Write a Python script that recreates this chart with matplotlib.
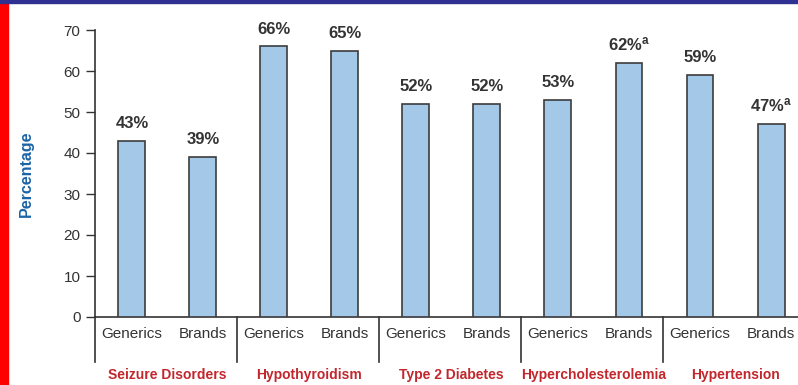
import numpy as np
import matplotlib
matplotlib.use("Agg")
import matplotlib.pyplot as plt
from matplotlib.patches import Rectangle
from matplotlib.transforms import blended_transform_factory

plt.rcParams["font.family"] = ["Liberation Sans", "DejaVu Sans"]
plt.rcParams["mathtext.default"] = "regular"

# adherence by condition, generic vs brand-name drugs
conditions = ["Seizure Disorders", "Hypothyroidism", "Type 2 Diabetes",
              "Hypercholesterolemia", "Hypertension"]
generics = [43, 66, 52, 53, 59]
brands = [39, 65, 52, 62, 47]
brands_flag = [False, False, False, True, True]   # footnote "a"
drug_types = ["Generics", "Brands"]

values = [v for pair in zip(generics, brands) for v in pair]
flags = [f for pair in zip([False] * len(generics), brands_flag) for f in pair]
xlabels = drug_types * len(conditions)
x = np.arange(len(values)) + 0.52

fig = plt.figure(figsize=(7.98, 3.85), dpi=100)
ax = fig.add_axes([95 / 798, 1 - 317 / 385, 1 - 95 / 798, 287 / 385])

dark = "#333333"
ax.bar(x, values, width=0.38, color="#a3c8e8", edgecolor="#3c3c3c", linewidth=1.2, zorder=3)

for xi, v, f in zip(x, values, flags):
    label = f"{v}%" + (r"$^{a}$" if f else "")
    ax.annotate(label, (xi, v), xytext=(0, 7), textcoords="offset points",
                ha="center", va="bottom", fontsize=12, fontweight="bold", color=dark)

ax.set_xlim(0, 9.9)
ax.set_ylim(0, 70)
ax.set_yticks(range(0, 71, 10))
ax.set_xticks(x)
ax.set_xticklabels(xlabels, fontsize=11, color=dark)
ax.tick_params(axis="x", length=0, pad=7)
ax.tick_params(axis="y", length=6.5, width=1, color=dark, labelsize=11, labelcolor=dark, pad=4)

for side in ["top", "right"]:
    ax.spines[side].set_visible(False)
for side in ["left", "bottom"]:
    ax.spines[side].set_color(dark)
    ax.spines[side].set_linewidth(1.2)

ax.set_ylabel("Percentage", fontsize=11.5, fontweight="bold", color="#1c64a6")
ax.yaxis.set_label_coords(-61 / 703, 0.5)

# group separators below the axis and condition names
trans = blended_transform_factory(ax.transData, ax.transAxes)
for g in range(len(conditions)):
    ax.plot([2 * g, 2 * g], [0, -0.157], transform=trans, color=dark,
            linewidth=1.2, clip_on=False)
    ax.text(2 * g + 1.02, -0.202, conditions[g], transform=trans, ha="center", va="center",
            fontsize=10, fontweight="bold", color="#c1272d")

# frame strips
fig.patches.append(Rectangle((0, 0), 8 / 798, 1, transform=fig.transFigure,
                             color="#ff0000", zorder=10))
fig.patches.append(Rectangle((0, 1 - 3 / 385), 1, 3 / 385, transform=fig.transFigure,
                             color="#2e3192", zorder=10))

fig.savefig("out.png", dpi=100)
